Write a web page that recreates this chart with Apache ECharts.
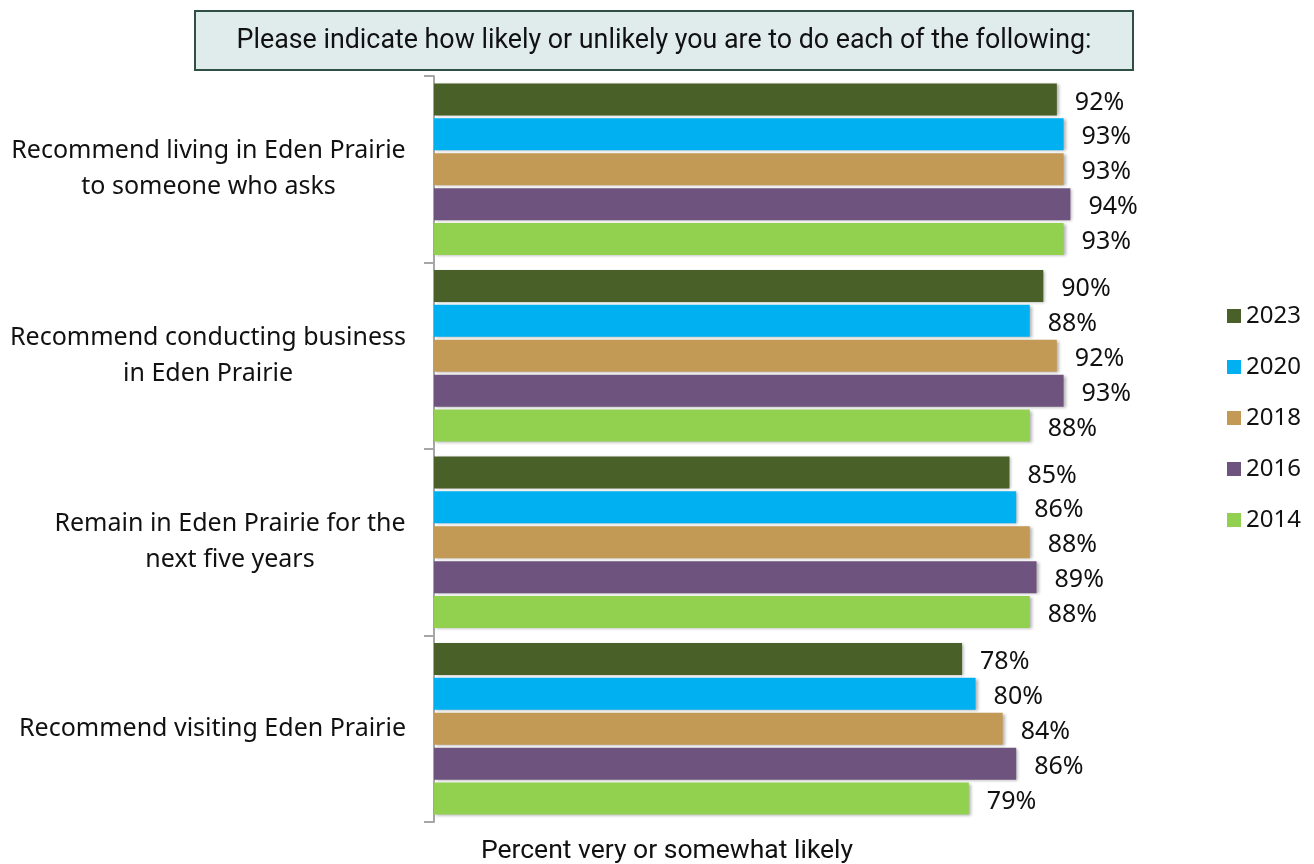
<!DOCTYPE html>
<html><head><meta charset="utf-8">
<script src="https://cdn.jsdelivr.net/npm/echarts@6/dist/echarts.min.js"></script>
<style>html,body{margin:0;padding:0;background:#fff}#c{width:1314px;height:864px}</style>
</head><body><div id="c"></div>
<script>
const categories = ["Recommend living in Eden Prairie\nto someone who asks","Recommend conducting business\nin Eden Prairie","Remain in Eden Prairie for the\nnext five years","Recommend visiting Eden Prairie"];
const years = ["2023","2020","2018","2016","2014"];
const v2023 = [92, 90, 85, 78];
const v2020 = [93, 88, 86, 80];
const v2018 = [93, 92, 88, 84];
const v2016 = [94, 93, 89, 86];
const v2014 = [93, 88, 88, 79];
const colors = ["#4a6029","#00b0f0","#c39a55","#6e537e","#92d050"];
const titleText = "Please indicate how likely or unlikely you are to do each of the following:";
const axisTitle = "Percent very or somewhat likely";

const seriesData = [v2023, v2020, v2018, v2016, v2014];
const labelFont = '25px "Noto Sans"';
const ctx = document.createElement('canvas').getContext('2d');
ctx.font = labelFont;
const rich = {};
categories.forEach((c, i) => {
  const w = Math.max(...c.split('\n').map(s => ctx.measureText(s).width));
  rich['c' + i] = {width: Math.ceil(w), align: 'center', fontSize: 25, fontFamily: 'Noto Sans', color: '#111', lineHeight: 36};
});

const chart = echarts.init(document.getElementById('c'), null, {renderer:'canvas'});
chart.setOption({
  animation:false,
  textStyle:{fontFamily:'Noto Sans'},
  graphic:[
    {type:'rect', shape:{x:195,y:11,width:938,height:59}, style:{fill:'#e0ecec', stroke:'#2f4f45', lineWidth:2}},
    {type:'text', x:664, y:41, style:{text:titleText, font:'26.8px Roboto', fill:'#111', textAlign:'center', textVerticalAlign:'middle'}},
    {type:'text', x:667, y:851, style:{text:axisTitle, font:'26.5px Roboto', fill:'#111', textAlign:'center', textVerticalAlign:'middle'}}
  ],
  legend:{
    orient:'vertical', left:1222, top:299, itemWidth:14, itemHeight:14, itemGap:27,
    icon:'rect',
    textStyle:{fontSize:24, fontFamily:'Noto Sans', color:'#111'},
    data:years
  },
  grid:{left:434, right:203, top:76, bottom:42, containLabel:false},
  xAxis:{type:'value', min:0, max:100, show:false},
  yAxis:{type:'category', data:categories, inverse:true,
    axisLine:{show:true, lineStyle:{color:'#a6a6a6', width:2}},
    axisTick:{show:true, length:10, lineStyle:{color:'#a6a6a6', width:2}},
    axisLabel:{
      margin:28, align:'right', lineHeight:36,
      formatter:(val, idx) => val.split('\n').map(s => '{c' + idx + '|' + s + '}').join('\n'),
      rich: rich
    }
  },
  series: years.map((y,i)=>({
    name:y, type:'bar', data:seriesData[i], barWidth:32, barGap:'9%',
    itemStyle:{color:colors[i], shadowColor:'rgba(0,0,0,0.3)', shadowBlur:3, shadowOffsetX:2, shadowOffsetY:1},
    label:{show:true, position:'right', distance:17, offset:[1,3], formatter:'{c}%', fontSize:25, fontFamily:'Noto Sans', color:'#111'}
  }))
});
</script></body></html>
